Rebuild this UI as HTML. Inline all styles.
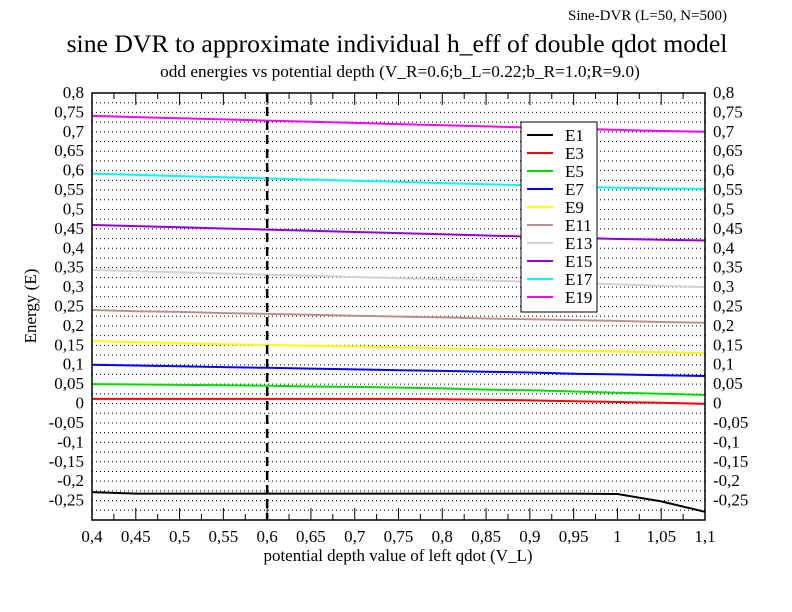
<!DOCTYPE html>
<html><head><meta charset="utf-8"><style>
body{margin:0;background:#fff}
svg{display:block;font-family:"Liberation Serif",serif}
</style></head><body>
<svg id="chart" width="792" height="612" viewBox="0 0 792 612">
<text x="727" y="20" text-anchor="end" font-size="15">Sine-DVR (L=50, N=500)</text>
<text x="397" y="52" text-anchor="middle" font-size="25.7">sine DVR to approximate individual h_eff of double qdot model</text>
<text x="400" y="77" text-anchor="middle" font-size="17.3">odd energies vs potential depth (V_R=0.6;b_L=0.22;b_R=1.0;R=9.0)</text>
<text transform="translate(36,306) rotate(-90)" text-anchor="middle" font-size="17">Energy (E)</text>
<text x="398" y="561" text-anchor="middle" font-size="17">potential depth value of left qdot (V_L)</text>
<g id="grid"></g><g id="series"></g><g id="axes"></g><g id="legend"></g>
</svg>
<script>
const xs=[0.4,0.45,0.5,0.55,0.6,0.65,0.7,0.75,0.8,0.85,0.9,0.95,1.0,1.05,1.1];
const seriesNames=["E1","E3","E5","E7","E9","E11","E13","E15","E17","E19"];
const seriesColors=["#000000","#ff0000","#00e000","#0000ff","#ffff00","#bc8f8f","#d3d3d3","#9400d3","#00ffff","#ff00ff"];
const E1=[-0.228,-0.232,-0.232,-0.232,-0.232,-0.232,-0.232,-0.232,-0.232,-0.232,-0.232,-0.232,-0.233,-0.252,-0.279];
const E3=[0.012,0.012,0.012,0.012,0.012,0.012,0.012,0.012,0.011,0.01,0.008,0.006,0.004,0.002,-0.001];
const E5=[0.05,0.049,0.048,0.047,0.046,0.044,0.043,0.041,0.039,0.036,0.034,0.031,0.028,0.025,0.022];
const E7=[0.1,0.098,0.096,0.094,0.092,0.09,0.088,0.086,0.084,0.082,0.08,0.077,0.075,0.073,0.071];
const E9=[0.161,0.158,0.156,0.153,0.151,0.149,0.147,0.145,0.142,0.14,0.138,0.136,0.134,0.132,0.13];
const E11=[0.241,0.238,0.236,0.233,0.231,0.229,0.226,0.224,0.222,0.219,0.217,0.215,0.213,0.21,0.208];
const E13=[0.344,0.341,0.338,0.335,0.332,0.329,0.326,0.323,0.32,0.317,0.314,0.311,0.307,0.303,0.3];
const E15=[0.46,0.457,0.454,0.451,0.448,0.445,0.442,0.439,0.436,0.433,0.43,0.427,0.424,0.422,0.42];
const E17=[0.592,0.589,0.586,0.583,0.58,0.577,0.574,0.571,0.568,0.565,0.562,0.559,0.556,0.554,0.553];
const E19=[0.741,0.738,0.735,0.732,0.729,0.726,0.723,0.72,0.717,0.714,0.711,0.708,0.705,0.702,0.7];
const seriesValues=[E1,E3,E5,E7,E9,E11,E13,E15,E17,E19];
const xTicks=[0.4,0.45,0.5,0.55,0.6,0.65,0.7,0.75,0.8,0.85,0.9,0.95,1,1.05,1.1];
const yTicks=[0.8,0.75,0.7,0.65,0.6,0.55,0.5,0.45,0.4,0.35,0.3,0.25,0.2,0.15,0.1,0.05,0,-0.05,-0.1,-0.15,-0.2,-0.25];
const markerX=0.6;
const L=92,R=705,T=93,B=520,X0=0.4,X1=1.1,Y0=-0.3,Y1=0.8;
const sx=v=>L+(v-X0)/(X1-X0)*(R-L);
const sy=v=>B-(v-Y0)/(Y1-Y0)*(B-T);
const NS="http://www.w3.org/2000/svg";
function mk(tag,attrs,parent){const e=document.createElementNS(NS,tag);for(const k in attrs)e.setAttribute(k,attrs[k]);parent.appendChild(e);return e;}
const fmt=v=>String(+v.toFixed(3)).replace('.',',');
const grid=document.getElementById('grid'),axes=document.getElementById('axes'),ser=document.getElementById('series'),leg=document.getElementById('legend');
for(let i=1;i<44;i++){const v=Y0+i*0.025;const y=sy(v);
 const g=mk('line',{x1:L,x2:R,y1:y,y2:y,stroke:'#000','stroke-width':1,'stroke-dasharray':'1,3'},grid);
 
 }
yTicks.forEach(v=>{const y=sy(v);
 const a=mk('text',{x:L-8,y:y+5,'text-anchor':'end','font-size':17},axes);a.textContent=fmt(v);
 
 
 const b=mk('text',{x:R+8,y:y+5,'text-anchor':'start','font-size':17},axes);b.textContent=fmt(v);
 
 });
xTicks.forEach((v,i)=>{const x=sx(v);
 mk('line',{x1:x,x2:x,y1:B,y2:B-12,stroke:'#000'},axes);mk('line',{x1:x,x2:x,y1:T,y2:T+12,stroke:'#000'},axes);
 if(i<xTicks.length-1){const m=sx(v+0.025);mk('line',{x1:m,x2:m,y1:B,y2:B-6,stroke:'#000'},axes);mk('line',{x1:m,x2:m,y1:T,y2:T+6,stroke:'#000'},axes);}
 const t=mk('text',{x:x,y:B+22,'text-anchor':'middle','font-size':17},axes);t.textContent=fmt(v);
 
 });
const fr=mk('rect',{x:L,y:T,width:R-L,height:B-T,fill:'none',stroke:'#000','stroke-width':1.5},axes);


seriesValues.forEach((vals,i)=>{
 let d='';vals.forEach((v,j)=>{d+=(j?'L':'M')+sx(xs[j]).toFixed(1)+','+sy(v).toFixed(1);});
 const p=mk('path',{d:d,fill:'none',stroke:seriesColors[i],'stroke-width':2},ser);
 
 });
const mx=sx(markerX);
const ml=mk('line',{x1:mx,x2:mx,y1:T,y2:B,stroke:'#000','stroke-width':2.5,'stroke-dasharray':'9,5'},ser);


const lb=mk('rect',{x:521,y:122,width:76,height:190,fill:'#fff',stroke:'#000','stroke-width':1},leg);


seriesNames.forEach((n,i)=>{const y=135+i*18;
 const l=mk('line',{x1:527,x2:553,y1:y,y2:y,stroke:seriesColors[i],'stroke-width':2},leg);
 
 
 const t=mk('text',{x:565,y:y+6,'font-size':17},leg);t.textContent=n;
 
 });
</script>
</body></html>
